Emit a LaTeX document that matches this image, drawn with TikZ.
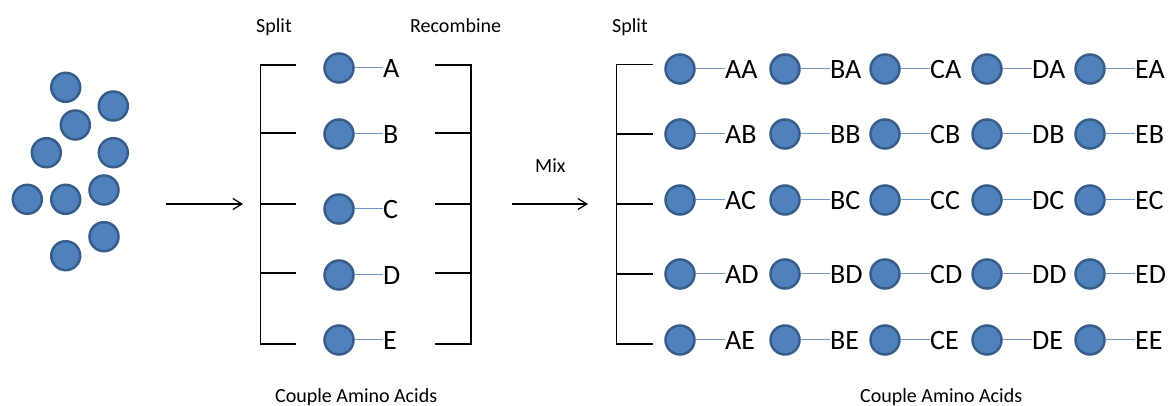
\documentclass[tikz,border=0pt]{standalone}
\usepackage{fontspec}
\setmainfont{Carlito}
\usetikzlibrary{arrows.meta}
\definecolor{ballfill}{RGB}{79,129,189}
\definecolor{balldraw}{RGB}{56,93,138}
\definecolor{linkblue}{RGB}{110,150,205}
\tikzset{
 ball/.style={circle, fill=ballfill, draw=balldraw, line width=2.5pt, minimum size=29pt, inner sep=0pt},
 lab/.style={font=\fontsize{28}{28}\selectfont, inner sep=0pt, anchor=base west},
 small/.style={font=\fontsize{20}{20}\selectfont, inner sep=0pt, anchor=base west},
 link/.style={draw=linkblue, line width=1pt},
 bracket/.style={line width=1.5pt, draw=black},
 flow/.style={line width=1.2pt, -{Straight Barb[length=9pt,width=11pt]}}
}
\begin{document}
\begin{tikzpicture}[x=1pt,y=-1pt]
\useasboundingbox (0,0) rectangle (1171,406);
% scattered amino acids
\foreach \n/\px/\py in {1/65.7/87.3,2/113.3/106,3/75.3/125,4/46.3/152.7,5/113.3/152.7,6/27.3/199.3,7/65.7/199.3,8/104/190,9/104/236.7,10/65.7/255.7}{
  \node[ball] (s\n) at (\px,\py) {};
}
% arrow 1
\coordinate (a1s) at (166,204);
\coordinate (a1e) at (243,204);
\draw[flow] (a1s) -- (a1e);
% left split bracket
\node[small] (split1) at (256,33) {Split};
\node[small] (recomb) at (410,33) {Recombine};
\coordinate (lb1) at (260.7,65);
\coordinate (lb5) at (260.7,344);
\draw[bracket] (296,65) -- (lb1) -- (lb5) -- (296,344);
\foreach \ty in {133,204,273}{\draw[bracket] (260.7,\ty) -- (296,\ty);}
% right recombine bracket
\coordinate (rb1) at (471,65);
\coordinate (rb5) at (471,344);
\draw[bracket] (435,65) -- (rb1) -- (rb5) -- (435,344);
\foreach \ty in {133,204,273}{\draw[bracket] (435,\ty) -- (471,\ty);}
% middle column
\foreach \c/\cy in {A/68,B/134,C/209,D/275,E/340}{
  \node[ball] (m\c) at (339,\cy) {};
  \node[lab] (ml\c) at (383,\cy+9.5) {\c};
  \draw[link] (m\c.east) -- (m\c.east -| ml\c.west);
}
\node[small] (couple1) at (275,402) {Couple Amino Acids};
% arrow 2
\node[small] (mix) at (535,173) {Mix};
\coordinate (a2s) at (512,204);
\coordinate (a2e) at (588,204);
\draw[flow] (a2s) -- (a2e);
% second split
\node[small] (split2) at (612,33) {Split};
\coordinate (sb1) at (616.7,64.3);
\coordinate (sb5) at (616.7,344);
\draw[bracket] (653,64.3) -- (sb1) -- (sb5) -- (653,344);
\foreach \ty in {134,204,274}{\draw[bracket] (616.7,\ty) -- (653,\ty);}
% grid
\foreach \c/\cx in {A/680,B/785,C/885,D/987,E/1090}{
  \foreach \r/\ry in {A/69,B/134,C/200,D/274,E/340}{
    \node[ball] (b\c\r) at (\cx,\ry) {};
    \node[lab] (l\c\r) at (\cx+45,\ry+9.5) {\c\r};
    \draw[link] (b\c\r.east) -- (b\c\r.east -| l\c\r.west);
  }
}
\node[small] (couple2) at (860,402) {Couple Amino Acids};
\end{tikzpicture}
\end{document}
